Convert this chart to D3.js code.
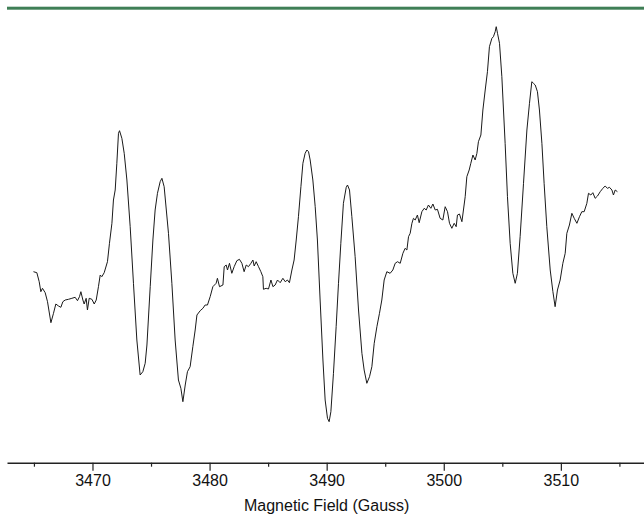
<!DOCTYPE html>
<html>
<head>
<meta charset="utf-8">
<script src="https://cdn.jsdelivr.net/npm/d3@7"></script>
<style>
  html, body { margin: 0; padding: 0; background: #fff; }
  svg { display: block; }
  text { font-family: "Liberation Sans", Arial, Helvetica, sans-serif; }
</style>
</head>
<body>
<svg id="chart" width="644" height="515"></svg>
<script>
// EPR spectrum: magnetic field (G) vs. first-derivative signal (arbitrary units)
const field = [
  3464.96, 3465.25, 3465.45, 3465.59, 3465.73, 3465.96, 3466.16, 3466.45, 3466.67, 3466.87,
  3467.10, 3467.30, 3467.47, 3467.67, 3467.95, 3468.24, 3468.52, 3468.72, 3468.89, 3469.01,
  3469.18, 3469.29, 3469.46, 3469.57, 3469.72, 3469.95, 3470.15, 3470.32, 3470.51, 3470.66,
  3470.80, 3471.00, 3471.28, 3471.45, 3471.66, 3471.79, 3471.94, 3472.08, 3472.22, 3472.31,
  3472.51, 3472.71, 3472.94, 3473.22, 3473.50, 3473.79, 3474.07, 3474.30, 3474.50, 3474.65,
  3474.93, 3475.16, 3475.35, 3475.55, 3475.78, 3475.93, 3476.12, 3476.49, 3476.78, 3477.06,
  3477.34, 3477.55, 3477.72, 3477.92, 3478.11, 3478.34, 3478.57, 3478.77, 3478.92, 3479.20,
  3479.43, 3479.62, 3479.82, 3480.05, 3480.28, 3480.56, 3480.67, 3480.85, 3481.14, 3481.25,
  3481.42, 3481.53, 3481.70, 3481.90, 3482.10, 3482.33, 3482.55, 3482.76, 3482.95, 3483.13,
  3483.32, 3483.53, 3483.70, 3483.81, 3483.98, 3484.18, 3484.38, 3484.55, 3484.60, 3484.83,
  3485.03, 3485.24, 3485.41, 3485.60, 3485.80, 3486.03, 3486.26, 3486.46, 3486.65, 3486.82,
  3487.03, 3487.22, 3487.40, 3487.59, 3487.80, 3487.97, 3488.16, 3488.31, 3488.45, 3488.59,
  3488.82, 3489.02, 3489.21, 3489.44, 3489.68, 3489.87, 3490.07, 3490.21, 3490.36, 3490.58,
  3490.81, 3491.01, 3491.21, 3491.43, 3491.67, 3491.78, 3491.95, 3492.15, 3492.43, 3492.72,
  3493.01, 3493.20, 3493.43, 3493.66, 3493.86, 3494.06, 3494.29, 3494.51, 3494.71, 3494.91,
  3495.14, 3495.42, 3495.65, 3495.85, 3496.05, 3496.28, 3496.51, 3496.70, 3496.85, 3496.99,
  3497.13, 3497.28, 3497.41, 3497.56, 3497.75, 3497.90, 3498.13, 3498.33, 3498.50, 3498.69,
  3498.90, 3499.07, 3499.27, 3499.46, 3499.69, 3499.92, 3500.12, 3500.32, 3500.49, 3500.69,
  3500.89, 3501.06, 3501.17, 3501.34, 3501.55, 3501.68, 3501.83, 3501.97, 3502.17, 3502.31,
  3502.49, 3502.68, 3502.83, 3502.96, 3503.17, 3503.34, 3503.54, 3503.73, 3503.90, 3504.11,
  3504.24, 3504.39, 3504.48, 3504.59, 3504.76, 3504.96, 3505.24, 3505.44, 3505.67, 3505.90,
  3506.10, 3506.29, 3506.52, 3506.81, 3507.10, 3507.32, 3507.52, 3507.66, 3507.81, 3508.00,
  3508.17, 3508.38, 3508.57, 3508.80, 3509.09, 3509.32, 3509.51, 3509.71, 3509.94, 3510.17,
  3510.37, 3510.51, 3510.73, 3510.94, 3511.14, 3511.37, 3511.59, 3511.79, 3511.99, 3512.22,
  3512.36, 3512.56, 3512.73, 3512.93, 3513.13, 3513.36, 3513.59, 3513.78, 3513.98, 3514.15,
  3514.36, 3514.49, 3514.64, 3514.83
];

const signal = [
  8.3, 7.3, -1.7, -11.7, -8.3, -12.7, -21.7, -42.7, -33.3, -24,
  -26, -27.3, -21.7, -20, -19.3, -18.3, -17.3, -20.7, -16.7, -11.7,
  -20, -24, -18.3, -30, -18.3, -19.3, -24, -20, -6.7, 5,
  3.3, 7.3, 18.3, 36.7, 56.7, 80, 90, 116.7, 146.7, 149.3,
  141.7, 126.7, 100, 53.3, -3.3, -60, -95, -91.7, -83.3, -65,
  -6.7, 40, 70, 86.7, 98.3, 101.7, 93.3, 46.7, -3.3, -60,
  -100, -108.3, -121.7, -105, -91.7, -86.7, -66.7, -50, -35, -30.7,
  -28.3, -25, -25, -16.7, -6.7, -3.3, 1.7, -6.7, -5, 13.3,
  15, 10, 16.7, 6.7, 13.3, 19.3, 20.7, 16.7, 8.3, 15,
  13.3, 16.7, 20, 14, 18.3, 13.3, 8.3, 3.3, -9.3, -8.3,
  -9, 0, -6.7, -5, 0, -2.7, 1.7, -1.7, 0, -2.7,
  10, 20, 40, 63.3, 93.3, 116.7, 126.7, 130, 128.3, 120,
  100, 73.3, 40, -20, -80, -120, -138.3, -141.7, -131.7, -93.3,
  -46.7, -3.3, 36.7, 76.7, 92.7, 95, 90, 63.3, 23.3, -30,
  -73.3, -90, -103.3, -96.7, -86.7, -63.3, -46.7, -33.3, -20, 0,
  8.3, 6.7, 10, 16.7, 18.3, 16.7, 26.7, 31.7, 30, 43.3,
  46.7, 56.7, 61.7, 60, 65, 57.3, 68.3, 71.7, 70, 75,
  71.7, 76, 70, 70.7, 61.7, 60, 73.3, 68.3, 56.7, 51.7,
  56.7, 53.3, 65, 66, 58.3, 70, 83.3, 103.3, 110, 116.7,
  125, 120, 126.7, 138.3, 145, 170, 190, 208.3, 233.3, 241.7,
  243.3, 248.3, 253.3, 246.7, 236.7, 203.3, 136.7, 83.3, 36.7, 6.7,
  -3.3, 6.7, 43.3, 96.7, 150, 176.7, 198.3, 196.7, 195, 188.3,
  170, 136.7, 96.7, 53.3, 10, -11.7, -26.7, -10, 0, 16.7,
  26.7, 46.7, 55, 66.7, 61.7, 56.7, 63.3, 68.3, 68.3, 76.7,
  86.7, 85, 87.3, 81.7, 84, 88.3, 91.7, 94, 91.7, 92.7,
  90, 85, 90, 88.3
];

const majorTicks = [3470, 3480, 3490, 3500, 3510];
const minorTicks = [3465, 3475, 3485, 3495, 3505, 3515];
const xTitle = "Magnetic Field (Gauss)";

const svg = d3.select("#chart");
const W = 644, H = 515;
const axisY = 462.7;

const x = d3.scaleLinear().domain([3462.7, 3517.1]).range([7, 644]);
const y = d3.scaleLinear().domain([-200, 250]).range([480, 30]);

// header rule
svg.append("rect")
  .attr("x", 7).attr("y", 6.7)
  .attr("width", W - 7).attr("height", 3)
  .attr("fill", "#3f7f56");

// spectrum trace
const data = field.map((f, i) => ({ f, v: signal[i] }));
svg.append("path")
  .datum(data)
  .attr("fill", "none")
  .attr("stroke", "#1a1a1a")
  .attr("stroke-width", 1)
  .attr("stroke-linejoin", "round")
  .attr("d", d3.line().x(d => x(d.f)).y(d => y(d.v)));

// bottom axis: minor ticks
const minorAxis = svg.append("g")
  .attr("transform", `translate(0,${axisY})`)
  .call(d3.axisBottom(x).tickValues(minorTicks).tickSize(4).tickSizeOuter(0).tickFormat(""));
minorAxis.select(".domain").remove();

// bottom axis: major ticks with labels
const majorAxis = svg.append("g")
  .attr("transform", `translate(0,${axisY})`)
  .call(d3.axisBottom(x).tickValues(majorTicks).tickSize(8).tickSizeOuter(0).tickPadding(4).tickFormat(d3.format("d")));

svg.selectAll(".domain").attr("stroke", "#222").attr("stroke-width", 1.5);
svg.selectAll(".tick line").attr("stroke", "#222").attr("stroke-width", 1.2);
majorAxis.selectAll(".tick text")
  .attr("font-size", 16)
  .attr("font-family", "'Liberation Sans', Arial, sans-serif")
  .attr("fill", "#111");

// axis title
svg.append("text")
  .attr("x", x(3490))
  .attr("y", 510.5)
  .attr("text-anchor", "middle")
  .attr("font-size", 16)
  .attr("fill", "#111")
  .text(xTitle);
</script>
</body>
</html>
